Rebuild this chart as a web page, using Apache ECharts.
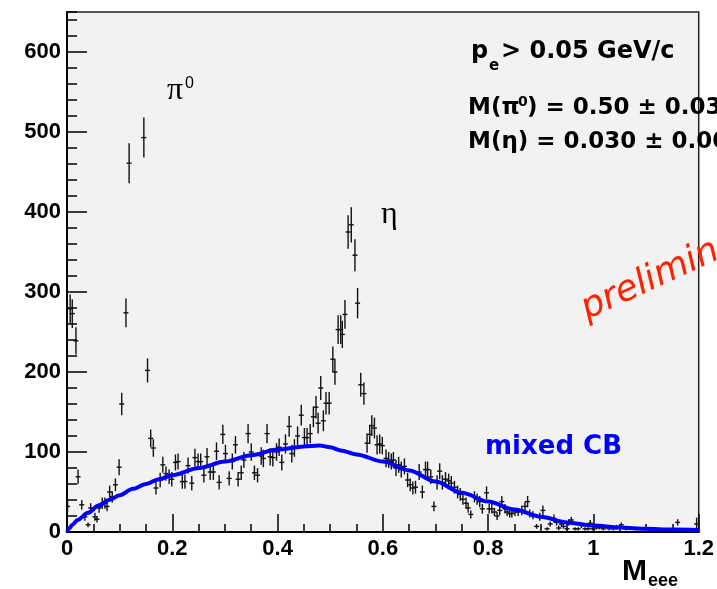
<!DOCTYPE html>
<html>
<head>
<meta charset="utf-8">
<script src="https://cdn.jsdelivr.net/npm/echarts@6.0.0/dist/echarts.min.js"></script>
<style>
html,body{margin:0;padding:0;background:#fff;}
#chart{width:717px;height:589px;}
</style>
</head>
<body>
<div id="chart"></div>
<script>
// Measured mass bins (M_eee), counts and statistical errors
var massX = [0.001,0.006,0.010,0.017,0.021,0.028,0.034,0.040,0.045,0.053,
0.057,0.061,0.067,0.072,0.076,0.081,0.086,0.092,0.099,0.104,
0.112,0.118,0.146,0.153,0.159,0.164,0.169,0.177,0.182,0.188,
0.194,0.199,0.206,0.211,0.219,0.224,0.230,0.237,0.243,0.249,
0.254,0.260,0.266,0.272,0.278,0.284,0.289,0.296,0.301,0.308,
0.314,0.320,0.325,0.331,0.336,0.344,0.350,0.356,0.362,0.369,
0.373,0.380,0.386,0.391,0.398,0.403,0.408,0.415,0.422,0.427,
0.432,0.438,0.445,0.451,0.456,0.462,0.468,0.473,0.477,0.482,
0.487,0.492,0.498,0.505,0.509,0.515,0.520,0.523,0.528,0.534,
0.540,0.547,0.552,0.558,0.564,0.570,0.575,0.579,0.584,0.589,
0.594,0.599,0.606,0.611,0.616,0.620,0.625,0.630,0.635,0.641,
0.647,0.652,0.657,0.662,0.669,0.675,0.681,0.685,0.691,0.697,
0.703,0.708,0.713,0.719,0.725,0.730,0.736,0.742,0.747,0.752,
0.758,0.762,0.767,0.774,0.779,0.784,0.789,0.797,0.802,0.807,
0.812,0.817,0.822,0.826,0.832,0.836,0.841,0.845,0.851,0.857,
0.864,0.870,0.875,0.879,0.885,0.892,0.898,0.904,0.912,0.918,
0.925,0.930,0.934,0.939,0.943,0.950,0.953,0.958,0.965,0.971,
0.977,0.984,0.990,0.994,0.999,1.006,1.012,1.019,1.030,1.038,
1.044,1.053,1.062,1.081,1.106,1.160,1.196];

var counts = [32,279,273,239,69,34,19,9,30,19,
16,30,36,36,32,50,44,59,81,160,
274,461,493,202,117,105,55,65,84,73,
69,66,87,88,63,63,83,61,93,88,
88,71,94,75,75,101,62,122,98,67,
88,109,66,74,90,123,100,74,71,95,
92,123,94,93,100,106,87,110,132,98,
105,120,146,118,118,123,144,156,136,180,
139,161,161,216,200,253,253,247,272,375,
384,346,286,184,173,111,122,133,130,109,
110,108,92,90,88,90,80,84,78,82,
65,59,55,56,75,50,78,78,69,32,
62,76,62,66,64,61,56,50,47,41,
36,30,22,44,41,38,29,49,29,29,
25,20,27,38,29,25,23,23,25,25,
27,32,38,23,21,7,19,27,4,10,
17,12,5,10,7,4,12,15,4,4,
8,4,4,11,4,5,6,4,4,4,
6,9,4,4,3,12,10];

var errors = [7,18,18,17,9,6,5,3,6,5,
4,6,7,7,6,8,7,8,10,14,
18,25,25,15,11,11,8,9,10,9,
9,9,10,10,9,9,10,9,11,10,
10,9,11,10,10,11,9,12,11,9,
10,11,9,9,10,12,11,9,9,11,
11,12,11,11,11,11,10,12,13,11,
11,12,13,12,12,12,13,14,13,15,
13,14,14,16,16,18,18,17,18,21,
22,20,19,15,14,12,12,13,13,12,
12,11,11,10,10,10,10,10,10,10,
9,8,8,8,10,8,10,10,9,6,
9,10,9,9,9,9,8,8,8,7,
7,6,5,7,7,7,6,8,6,6,
5,5,6,7,6,5,5,5,5,5,
6,6,7,5,5,3,5,6,2,3,
5,4,3,3,3,2,4,4,2,2,
3,2,2,4,2,2,3,2,2,2,
3,3,2,2,2,4,8];

// Mixed-event combinatorial background curve
var fitX = [0,0.005,0.01,0.02,0.04,0.06,0.08,0.1,0.125,0.15,0.175,0.2,0.25,0.3,0.35,0.4,0.45,0.48,0.5,0.52,0.55,0.6,0.65,0.7,0.75,0.8,0.85,0.9,0.95,1.0,1.05,1.1,1.15,1.2];
var fitY = [0,5,9,15,24,33,40,46,54,60,66,71,80,88,96,103,107,108,106,102,97,88,77,63,49,38,28,19,12,8,5.5,4,3,2.5];

var points = massX.map(function(x, i){ return [x, counts[i], errors[i]]; });
var fitData = fitX.map(function(x, i){ return [x, fitY[i]]; });

var chart = echarts.init(document.getElementById('chart'), null, {renderer:'canvas'});
var axisFont = {fontFamily:'Liberation Sans', fontWeight:'bold', fontSize:22, color:'#000'};

var option = {
  animation: false,
  backgroundColor: '#ffffff',
  grid: {left:67, right:15, top:12, bottom:57, show:true, backgroundColor:'#f2f2f2', borderColor:'#222', borderWidth:1.5},
  xAxis: {
    type:'value', min:0, max:1.2, interval:0.2,
    axisLine:{show:true, onZero:false, lineStyle:{color:'#000', width:2}},
    axisTick:{show:true, inside:true, length:18, lineStyle:{color:'#000', width:1.5}},
    minorTick:{show:true, splitNumber:4, length:8, lineStyle:{color:'#000', width:1.5}},
    axisLabel:Object.assign({margin:6, showMaxLabel:true, showMinLabel:true}, axisFont),
    splitLine:{show:false}
  },
  yAxis: [{
    type:'value', min:0, max:650, interval:100, position:'left',
    axisLine:{show:true, onZero:false, lineStyle:{color:'#000', width:2}},
    axisTick:{show:true, inside:true, length:20, lineStyle:{color:'#000', width:1.5}},
    axisLabel:Object.assign({margin:6, showMaxLabel:false,
      formatter:function(v){ return (v % 100 === 0) ? String(v) : ''; }}, axisFont),
    splitLine:{show:false}
  },{
    type:'value', min:0, max:650, interval:20, position:'left', offset:0,
    axisLine:{show:false},
    axisTick:{show:true, inside:true, length:10, lineStyle:{color:'#000', width:1.5}},
    axisLabel:{show:false},
    splitLine:{show:false}
  }],
  series: [{
    type:'custom',
    xAxisIndex:0, yAxisIndex:0,
    clip:true,
    data: points,
    encode:{x:0, y:1},
    renderItem:function(params, api){
      var x = api.value(0), y = api.value(1), e = api.value(2);
      var c = api.coord([x, y]);
      var t = api.coord([x, y + e]);
      var b = api.coord([x, Math.max(0, y - e)]);
      return {type:'group', children:[
        {type:'line', shape:{x1:c[0], y1:t[1], x2:c[0], y2:b[1]}, style:{stroke:'#111', lineWidth:1.4}},
        {type:'line', shape:{x1:c[0]-2.5, y1:c[1], x2:c[0]+2.5, y2:c[1]}, style:{stroke:'#111', lineWidth:1.4}}
      ]};
    }
  },{
    type:'line', xAxisIndex:0, yAxisIndex:0,
    data: fitData, showSymbol:false, smooth:0.3, smoothMonotone:'x',
    lineStyle:{color:'#0000ff', width:4}, z:5
  }],
  graphic: [
    {type:'text', x:167, y:91, style:{text:'\u03c0', font:'32px "Liberation Serif"', fill:'#000', verticalAlign:'middle'}},
    {type:'text', x:185, y:84, style:{text:'0', font:'16px "Liberation Sans"', fill:'#000', verticalAlign:'middle'}},
    {type:'text', x:381, y:215, style:{text:'\u03b7', font:'32px "Liberation Serif"', fill:'#000', verticalAlign:'middle'}},
    {type:'text', x:471, y:52, style:{text:'p', font:'bold 24px "DejaVu Sans"', fill:'#000', verticalAlign:'middle'}},
    {type:'text', x:489, y:66, style:{text:'e', font:'bold 15px "DejaVu Sans"', fill:'#000', verticalAlign:'middle'}},
    {type:'text', x:501, y:52, style:{text:'> 0.05 GeV/c', font:'bold 24px "DejaVu Sans"', fill:'#000', verticalAlign:'middle'}},
    {type:'text', x:468, y:108.5, style:{text:'M(\u03c0', font:'bold 23px "DejaVu Sans"', fill:'#000', verticalAlign:'middle'}},
    {type:'text', x:518, y:102, style:{text:'0', font:'bold 14px "DejaVu Sans"', fill:'#000', verticalAlign:'middle'}},
    {type:'text', x:527, y:108.5, style:{text:') = 0.50 \u00b1 0.03', font:'bold 23px "DejaVu Sans"', fill:'#000', verticalAlign:'middle'}},
    {type:'text', x:468, y:142.5, style:{text:'M(\u03b7) = 0.030 \u00b1 0.00', font:'bold 23px "DejaVu Sans"', fill:'#000', verticalAlign:'middle'}},
    {type:'text', x:485, y:447, style:{text:'mixed CB', font:'bold 26px "DejaVu Sans"', fill:'#0000ff', verticalAlign:'middle'}},
    {type:'text', x:588, y:322, rotation:0.43, style:{text:'preliminary', x:0, y:-12, font:'italic 36px "DejaVu Sans"', fill:'#ff2200', verticalAlign:'middle'}},
    {type:'text', x:622, y:572, style:{text:'M', font:'bold 30px "Liberation Sans"', fill:'#000', verticalAlign:'middle'}},
    {type:'text', x:648, y:581, style:{text:'eee', font:'bold 18px "Liberation Sans"', fill:'#000', verticalAlign:'middle'}}
  ]
};
chart.setOption(option);
</script>
</body>
</html>
